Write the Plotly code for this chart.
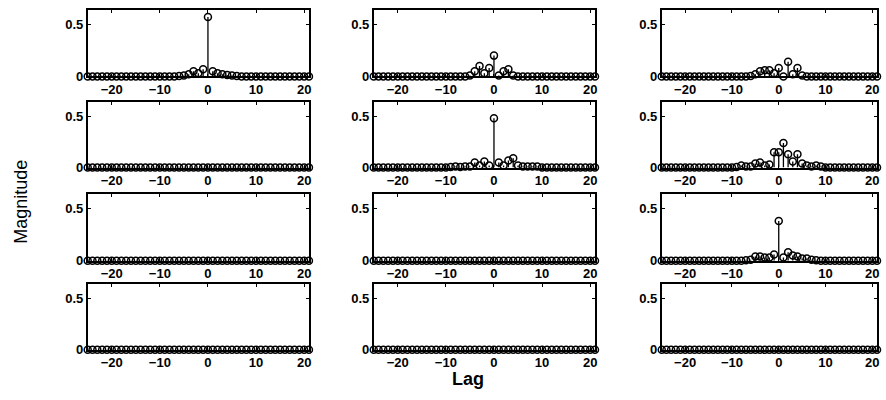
import plotly.graph_objects as go

# Lag axis shared by every panel
lags = list(range(-25, 22))

def series(nonzero):
    """Magnitude at each lag; lags not listed are zero."""
    return [nonzero.get(k, 0.0) for k in lags]

# Cross-correlation magnitudes, panels listed row by row (4 rows x 3 columns)
r1c1 = series({-6: 0.005, -5: 0.01, -4: 0.02, -3: 0.05, -2: 0.03, -1: 0.07, 0: 0.57,
               1: 0.05, 2: 0.03, 3: 0.02, 4: 0.015, 5: 0.01, 6: 0.005})
r1c2 = series({-5: 0.01, -4: 0.05, -3: 0.10, -2: 0.03, -1: 0.08, 0: 0.20,
               1: 0.01, 2: 0.05, 3: 0.07, 4: 0.01})
r1c3 = series({-6: 0.005, -5: 0.02, -4: 0.05, -3: 0.06, -2: 0.06, -1: 0.03, 0: 0.08,
               1: 0.0, 2: 0.14, 3: 0.02, 4: 0.08, 5: 0.01})
r2c1 = series({})
r2c2 = series({-9: 0.005, -8: 0.01, -7: 0.005, -6: 0.01, -5: 0.01, -4: 0.05, -3: 0.02,
               -2: 0.06, -1: 0.02, 0: 0.48, 1: 0.05, 2: 0.02, 3: 0.07, 4: 0.09,
               5: 0.02, 6: 0.01, 7: 0.01, 8: 0.01, 9: 0.01})
r2c3 = series({-9: 0.005, -8: 0.02, -7: 0.01, -6: 0.01, -5: 0.04, -4: 0.05, -3: 0.02,
               -2: 0.03, -1: 0.15, 0: 0.15, 1: 0.24, 2: 0.13, 3: 0.06, 4: 0.13,
               5: 0.04, 6: 0.02, 7: 0.01, 8: 0.02, 9: 0.01})
r3c1 = series({})
r3c2 = series({})
r3c3 = series({-7: 0.005, -6: 0.01, -5: 0.04, -4: 0.04, -3: 0.03, -2: 0.03, -1: 0.06,
               0: 0.38, 1: 0.03, 2: 0.08, 3: 0.05, 4: 0.04, 5: 0.02, 6: 0.02, 7: 0.01,
               8: 0.005})
r4c1 = series({})
r4c2 = series({})
r4c3 = series({})

panels = [[r1c1, r1c2, r1c3],
          [r2c1, r2c2, r2c3],
          [r3c1, r3c2, r3c3],
          [r4c1, r4c2, r4c3]]

x_ticks = [-20, -10, 0, 10, 20]
y_ticks = [0, 0.5]
y_tick_text = ["0", "0.5"]

W, H = 886, 400
col_px = [(88, 310), (375, 597), (664, 880)]
row_px = [(10, 78), (104, 171), (198, 266), (290, 357)]

FONT = "Liberation Sans, Arial, sans-serif"
fig = go.Figure()
tick_font = dict(family=FONT, size=13, color="black", weight="bold")

idx = 0
for r, row in enumerate(panels):
    for c, vals in enumerate(row):
        idx += 1
        xa = "x" if idx == 1 else f"x{idx}"
        ya = "y" if idx == 1 else f"y{idx}"
        # stems from the baseline up to each value
        sx, sy = [], []
        for k, v in zip(lags, vals):
            if v > 0:
                sx += [k, k, None]
                sy += [0, v, None]
        fig.add_trace(go.Scatter(x=sx, y=sy, mode="lines", xaxis=xa, yaxis=ya,
                                 line=dict(color="black", width=1.3),
                                 hoverinfo="skip", showlegend=False, cliponaxis=False))
        fig.add_trace(go.Scatter(x=lags, y=vals, mode="markers", xaxis=xa, yaxis=ya,
                                 marker=dict(symbol="circle-open", size=7, color="black",
                                             line=dict(width=1.5, color="black")),
                                 showlegend=False, cliponaxis=False))
        x0, x1 = col_px[c]
        y0, y1 = row_px[r]
        xkey = "xaxis" if idx == 1 else f"xaxis{idx}"
        ykey = "yaxis" if idx == 1 else f"yaxis{idx}"
        fig.layout[xkey] = dict(
            domain=[x0 / W, x1 / W], anchor=ya, range=[-25, 21],
            tickvals=x_ticks, ticks="inside", ticklen=3, tickcolor="black",
            tickwidth=1.3, showline=True, linecolor="black", linewidth=1.6,
            mirror="ticks", showgrid=False, zeroline=False, tickfont=tick_font,
            fixedrange=True)
        fig.layout[ykey] = dict(
            domain=[1 - y1 / H, 1 - y0 / H], anchor=xa, range=[0, 0.64],
            tickvals=y_ticks, ticktext=y_tick_text, ticks="inside", ticklen=3,
            tickcolor="black", tickwidth=1.3, showline=True, linecolor="black",
            linewidth=1.6, mirror="ticks", showgrid=False, zeroline=False,
            tickfont=tick_font, fixedrange=True)

fig.add_annotation(text="Magnitude", x=21 / W, y=1 - 206 / H, xref="paper", yref="paper",
                   xanchor="center", yanchor="middle", textangle=-90, showarrow=False,
                   font=dict(family=FONT, size=18, color="black"))
fig.add_annotation(text="Lag", x=470 / W, y=1 - 387 / H, xref="paper", yref="paper",
                   xanchor="center", yanchor="middle", showarrow=False,
                   font=dict(family=FONT, size=18, color="black", weight="bold"))

fig.update_layout(width=W, height=H, margin=dict(l=0, r=0, t=0, b=0),
                  paper_bgcolor="white", plot_bgcolor="white")

fig.write_html("out.html")
